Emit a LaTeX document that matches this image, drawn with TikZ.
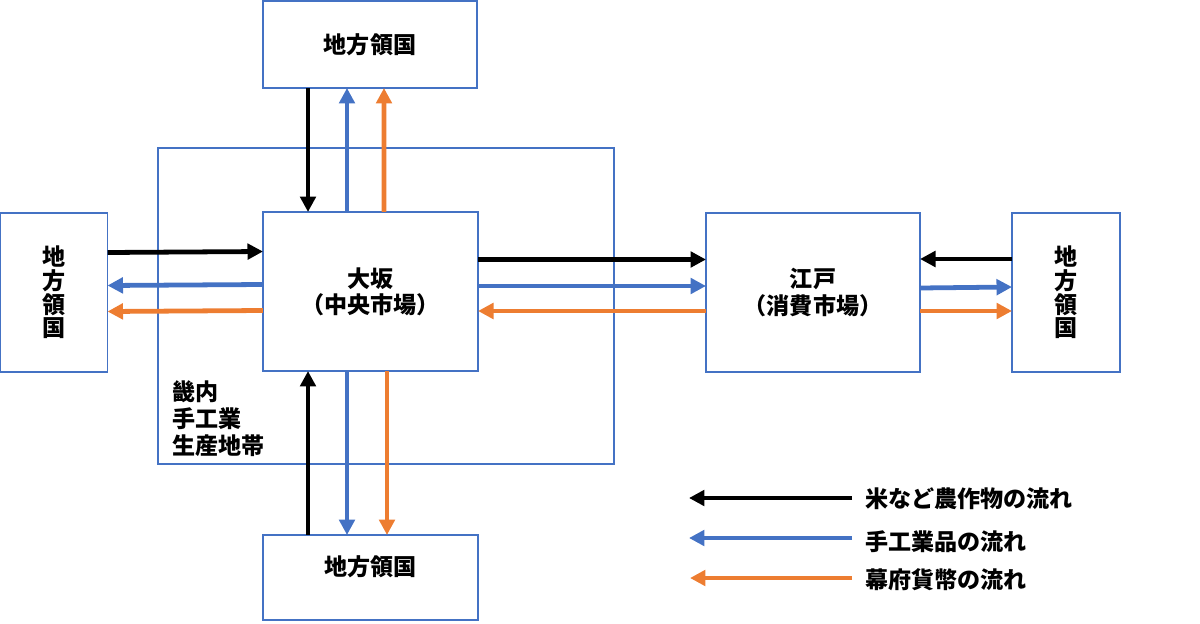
\documentclass[tikz,border=0pt]{standalone}
\usepackage{fontspec}
\setmainfont{Noto Sans CJK JP}
\usetikzlibrary{arrows.meta,positioning,calc}
\definecolor{frameBlue}{HTML}{4472C4}
\definecolor{goodsBlue}{HTML}{4472C4}
\definecolor{moneyOrange}{HTML}{ED7D31}

\begin{document}
\begin{tikzpicture}[x=0.025cm,y=-0.025cm]
	%defines
	\tikzstyle{region} = [rectangle, draw=frameBlue, line width=0.9pt, inner sep=0pt, outer sep=0pt, align=center, font=\bfseries\fontsize{16.4}{18}\selectfont]
	\tikzstyle{market} = [region, font=\bfseries\fontsize{16.4}{18.5}\selectfont]
	\tikzstyle{legendText} = [anchor=west, inner sep=0pt, font=\bfseries\fontsize{16.4}{18}\selectfont]
	\tikzstyle{riceArrow} = [line width=3.4pt, -{Triangle[length=11pt,width=11pt]}, black]
	\tikzstyle{goodsArrow} = [line width=3.4pt, -{Triangle[length=11pt,width=11pt]}, goodsBlue]
	\tikzstyle{moneyArrow} = [line width=3.4pt, -{Triangle[length=11pt,width=11pt]}, moneyOrange]
	\useasboundingbox (0,0) rectangle (1200,623);
	%chart
	\node (kinai) [region, minimum width=11.4cm, minimum height=7.9cm] at (386,306) {};
	\node (kinaiText) [anchor=north west, inner sep=0pt, align=left, font=\bfseries\fontsize{16.4}{19.5}\selectfont] at (172,380) {畿内\\手工業\\生産地帯};
	\node (osaka) [market, fill=white, minimum width=5.375cm, minimum height=3.975cm] at (370.5,291.5) {大坂\\（中央市場）};
	\node (edo) [market, minimum width=5.35cm, minimum height=3.975cm] at (813,292.5) {江戸\\（消費市場）};
	\node (topLand) [region, minimum width=5.35cm, minimum height=2.175cm] at (370,44.5) {地方領国};
	\node (bottomLand) [region, minimum width=5.375cm, minimum height=2.125cm] at (370.5,577.5) {};
	\node (bottomText) [inner sep=0pt, font=\bfseries\fontsize{16.4}{18}\selectfont] at (370.5,567) {地方領国};
	\node (leftLand) [region, minimum width=2.675cm, minimum height=3.975cm, font=\bfseries\fontsize{16.4}{16.8}\selectfont] at (54,292.5) {地\\方\\領\\国};
	\node (rightLand) [region, minimum width=2.7cm, minimum height=3.975cm, font=\bfseries\fontsize{16.4}{16.8}\selectfont] at (1066,292.5) {地\\方\\領\\国};
	% top
	\draw [riceArrow] ($(topLand.south)+(-62,0)$) -- ($(osaka.north)+(-62.5,0)$);
	\draw [goodsArrow] ($(osaka.north)+(-23.5,0)$) -- ($(topLand.south)+(-23,0)$);
	\draw [moneyArrow] ($(osaka.north)+(13.5,0)$) -- ($(topLand.south)+(14,0)$);
	% bottom
	\draw [riceArrow] ($(bottomLand.north)+(-62.5,0)$) -- ($(osaka.south)+(-62.5,0)$);
	\draw [goodsArrow] ($(osaka.south)+(-23.5,0)$) -- ($(bottomLand.north)+(-23.5,0)$);
	\draw [moneyArrow] ($(osaka.south)+(16.5,0)$) -- ($(bottomLand.north)+(16.5,0)$);
	% left
	\draw [riceArrow] ($(leftLand.east)+(0,-40)$) -- ($(osaka.west)+(0,-40)$);
	\draw [goodsArrow] ($(osaka.west)+(0,-7)$) -- ($(leftLand.east)+(0,-7)$);
	\draw [moneyArrow] ($(osaka.west)+(0,19)$) -- ($(leftLand.east)+(0,19)$);
	% osaka - edo
	\draw [riceArrow] ($(osaka.east)+(0,-32)$) -- ($(edo.west)+(0,-33)$);
	\draw [goodsArrow] ($(osaka.east)+(0,-5.5)$) -- ($(edo.west)+(0,-6.5)$);
	\draw [moneyArrow] ($(edo.west)+(0,18.5)$) -- ($(osaka.east)+(0,19.5)$);
	% edo - right
	\draw [riceArrow] ($(rightLand.west)+(0,-33.5)$) -- ($(edo.east)+(0,-33.5)$);
	\draw [goodsArrow] ($(edo.east)+(0,-4.5)$) -- ($(rightLand.west)+(0,-5.5)$);
	\draw [moneyArrow] ($(edo.east)+(0,18.5)$) -- ($(rightLand.west)+(0,18.5)$);
	% legend
	\node (riceLabel) [legendText] at (865,499) {米など農作物の流れ};
	\node (goodsLabel) [legendText] at (865,542) {手工業品の流れ};
	\node (moneyLabel) [legendText] at (865,580) {幕府貨幣の流れ};
	\coordinate (riceEnd) at (689,498);
	\coordinate (goodsEnd) at (689,538);
	\coordinate (moneyEnd) at (690,578);
	\draw [riceArrow, line width=3pt] ($(riceLabel.west)+(-13,-1)$) -- (riceEnd);
	\draw [goodsArrow, line width=3pt] ($(goodsLabel.west)+(-13,-4)$) -- (goodsEnd);
	\draw [moneyArrow, line width=3pt] ($(moneyLabel.west)+(-13,-2)$) -- (moneyEnd);
\end{tikzpicture}
\end{document}
